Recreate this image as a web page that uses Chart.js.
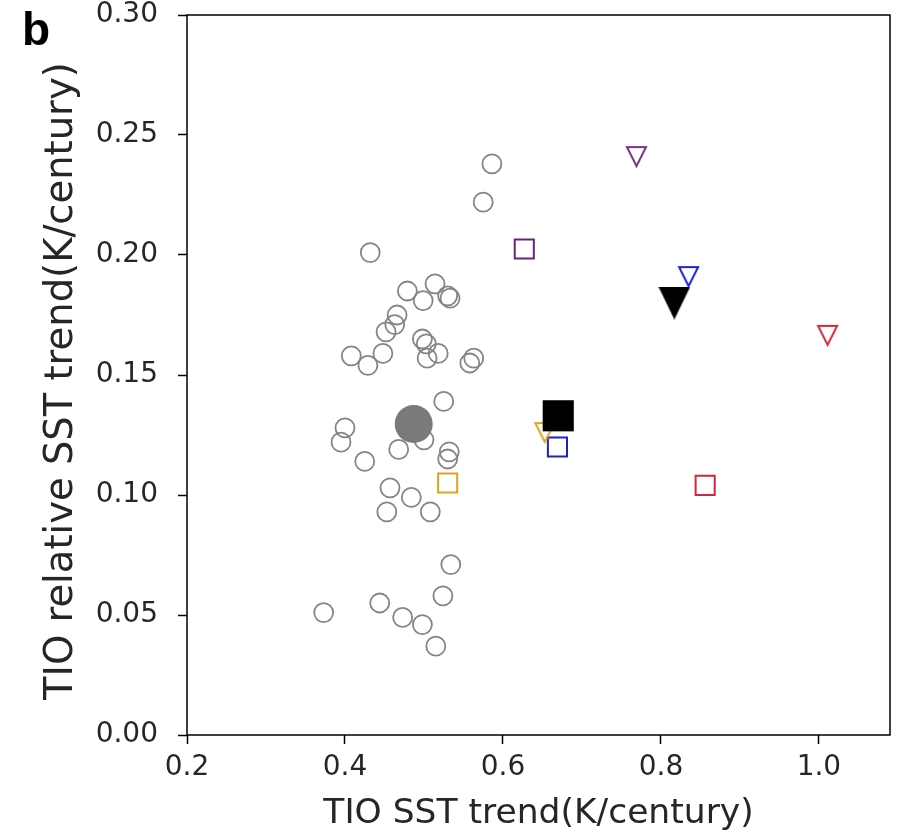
<!DOCTYPE html>
<html>
<head>
<meta charset="utf-8">
<script src="https://cdn.jsdelivr.net/npm/chart.js@4"></script>
<style>
  html, body { margin: 0; padding: 0; background: #fff; }
  #wrap { width: 902px; height: 836px; }
</style>
</head>
<body>
<div id="wrap"><canvas id="scatterChart" width="902" height="836"></canvas></div>
<script>
// individual models (open grey circles)
const modelX = [0.373, 0.432, 0.408, 0.429, 0.400, 0.395, 0.425, 0.457, 0.453, 0.484,
  0.508, 0.468, 0.500, 0.525, 0.532, 0.530, 0.534, 0.524, 0.444, 0.473,
  0.498, 0.515, 0.479, 0.514, 0.499, 0.530, 0.533, 0.466, 0.463, 0.452,
  0.448, 0.498, 0.503, 0.504, 0.518, 0.558, 0.563, 0.575, 0.586];
const modelY = [0.051, 0.201, 0.158, 0.154, 0.128, 0.122, 0.114, 0.103, 0.093, 0.099,
  0.093, 0.119, 0.123, 0.139, 0.118, 0.115, 0.071, 0.058, 0.055, 0.049,
  0.046, 0.037, 0.185, 0.188, 0.181, 0.183, 0.182, 0.175, 0.171, 0.168,
  0.159, 0.165, 0.163, 0.157, 0.159, 0.155, 0.157, 0.222, 0.238];

// model ensemble mean (filled grey circle)
const meanX = [0.487];
const meanY = [0.1296];

// coloured squares: gold, purple, blue, red
const squareX = [0.530, 0.627, 0.669, 0.856];
const squareY = [0.105, 0.2025, 0.120, 0.104];

// coloured down triangles: gold, purple, blue, red
const triangleX = [0.653, 0.769, 0.835, 1.011];
const triangleY = [0.126, 0.241, 0.191, 0.1665];

// black filled markers
const blackSquareX = [0.670];
const blackSquareY = [0.133];
const blackTriangleX = [0.817];
const blackTriangleY = [0.180];

const xTicks = [0.2, 0.4, 0.6, 0.8, 1.0];
const yTicks = [0.00, 0.05, 0.10, 0.15, 0.20, 0.25, 0.30];

const squareColors = ['#dda21e', '#67267a', '#2020c4', '#d0283a'];
const triangleColors = ['#dda21e', '#7a3290', '#2020d0', '#d62a3c'];

const toPoints = (xs, ys) => xs.map((x, i) => ({ x: x, y: ys[i] }));

// matplotlib-like 'v' marker as a small canvas
const makeTriangle = (color, filled, w, h, lw) => {
  const c = document.createElement('canvas');
  c.width = w + lw * 2;
  c.height = h + lw * 2;
  const g = c.getContext('2d');
  g.beginPath();
  g.moveTo(lw, lw);
  g.lineTo(w + lw, lw);
  g.lineTo(w / 2 + lw, h + lw);
  g.closePath();
  if (filled) {
    g.fillStyle = color;
    g.fill();
  } else {
    g.strokeStyle = color;
    g.lineWidth = lw;
    g.lineJoin = 'miter';
    g.stroke();
  }
  return c;
};

// no automatic label overflow padding, the plot box is fixed by layout padding
const noPad = (scale) => {
  scale.paddingTop = 0;
  scale.paddingBottom = 0;
  scale.paddingLeft = 0;
  scale.paddingRight = 0;
};

const frame = {
  id: 'frame',
  afterDraw(chart) {
    const { ctx, chartArea: a } = chart;
    ctx.save();
    ctx.strokeStyle = '#000';
    ctx.lineWidth = 1.5;
    ctx.strokeRect(a.left, a.top, a.right - a.left, a.bottom - a.top);
    ctx.fillStyle = '#000';
    ctx.font = 'bold 46px "Liberation Sans", Arial, sans-serif';
    ctx.textBaseline = 'alphabetic';
    ctx.fillText('b', 22, 45);
    ctx.restore();
  }
};

const tickFont = { family: 'DejaVu Sans', size: 28 };

const ctx = document.getElementById('scatterChart').getContext('2d');
const chart = new Chart(ctx, {
  type: 'scatter',
  data: {
    datasets: [
      {
        label: 'black square',
        data: toPoints(blackSquareX, blackSquareY),
        pointStyle: 'rect',
        pointRadius: 22,
        backgroundColor: '#000',
        borderColor: '#000',
        borderWidth: 0
      },
      {
        label: 'triangles',
        data: toPoints(triangleX, triangleY),
        pointStyle: triangleColors.map(c => makeTriangle(c, false, 19, 19, 2)),
        pointRadius: 10
      },
      {
        label: 'black triangle',
        data: toPoints(blackTriangleX, blackTriangleY),
        pointStyle: makeTriangle('#000', true, 32, 33, 0),
        pointRadius: 16
      },
      {
        label: 'squares',
        data: toPoints(squareX, squareY),
        pointStyle: 'rect',
        pointRadius: 13.5,
        backgroundColor: 'rgba(0,0,0,0)',
        borderColor: squareColors,
        borderWidth: 2
      },
      {
        label: 'ensemble mean',
        data: toPoints(meanX, meanY),
        pointStyle: 'circle',
        pointRadius: 19,
        backgroundColor: '#7a7a7a',
        borderColor: '#7a7a7a',
        borderWidth: 0
      },
      {
        label: 'models',
        data: toPoints(modelX, modelY),
        pointStyle: 'circle',
        pointRadius: 9.5,
        backgroundColor: 'rgba(0,0,0,0)',
        borderColor: '#858585',
        borderWidth: 1.8
      }
    ]
  },
  options: {
    responsive: false,
    animation: false,
    events: [],
    layout: { autoPadding: false, padding: { top: 15, right: 12, left: 0, bottom: 0 } },
    plugins: {
      legend: { display: false },
      tooltip: { enabled: false }
    },
    scales: {
      x: {
        type: 'linear',
        min: 0.2,
        max: 1.09,
        afterFit: (scale) => { scale.height = 101; noPad(scale); },
        afterBuildTicks: (scale) => { scale.ticks = xTicks.map(v => ({ value: v })); },
        border: { display: false },
        grid: { drawOnChartArea: false, drawTicks: true, tickLength: 9, tickWidth: 1.5, tickColor: '#000' },
        ticks: {
          font: tickFont,
          color: '#262626',
          padding: 7,
          maxRotation: 0,
          callback: (v) => v.toFixed(1)
        },
        title: {
          display: true,
          text: 'TIO SST trend(K/century)',
          font: { family: 'DejaVu Sans', size: 34.5 },
          color: '#262626',
          padding: { top: 0, bottom: 1 }
        }
      },
      y: {
        type: 'linear',
        min: 0,
        max: 0.3,
        afterFit: (scale) => { scale.width = 187; noPad(scale); },
        afterBuildTicks: (scale) => { scale.ticks = yTicks.map(v => ({ value: v })); },
        border: { display: false },
        grid: { drawOnChartArea: false, drawTicks: true, tickLength: 9, tickWidth: 1.5, tickColor: '#000' },
        ticks: {
          font: tickFont,
          color: '#262626',
          padding: 20,
          callback: (v) => v.toFixed(2)
        },
        title: {
          display: true,
          text: 'TIO relative SST trend(K/century) ',
          font: { family: 'DejaVu Sans', size: 38.5 },
          color: '#262626',
          padding: { top: 39, bottom: 0 }
        }
      }
    }
  },
  plugins: [frame]
});
</script>
</body>
</html>
